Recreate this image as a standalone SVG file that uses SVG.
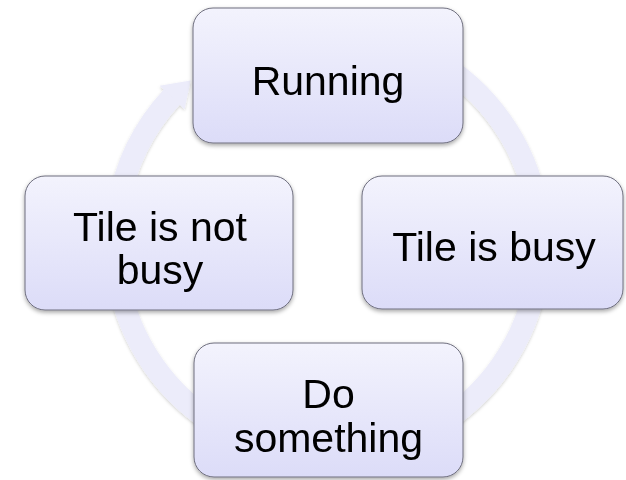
<svg xmlns="http://www.w3.org/2000/svg" width="626" height="480" viewBox="0 0 626 480">
<defs>
<style>
.ring{fill:none;stroke:#ECECFA;stroke-width:22}
.box{fill:url(#g);stroke:#6E6E7E;stroke-width:1}
.lbl{font-family:"Liberation Sans",Arial,sans-serif;font-size:41px;fill:#000;text-anchor:middle}
</style>
<linearGradient id="g" x1="0" y1="0" x2="0" y2="1">
<stop offset="0" stop-color="#F3F3FD"/>
<stop offset="1" stop-color="#DCDCF8"/>
</linearGradient>
<filter id="sh" x="-10%" y="-10%" width="120%" height="125%">
<feDropShadow dx="0" dy="2" stdDeviation="2" flood-color="#000" flood-opacity="0.35"/>
</filter>
<filter id="rs" x="-10%" y="-10%" width="120%" height="120%">
<feDropShadow dx="0" dy="1.5" stdDeviation="1.5" flood-color="#000" flood-opacity="0.18"/>
</filter>
</defs>
<rect width="626" height="480" fill="#fff"/>
<g id="connectors" filter="url(#rs)">
<path class="ring" d="M 433.7 59.6 A 212.4 212.4 0 0 1 536.7 206.6"/>
<path class="ring" d="M 536.7 280.4 A 212.4 212.4 0 0 1 433.7 427.4"/>
<path class="ring" d="M 221.3 427.4 A 212.4 212.4 0 0 1 118.3 280.4"/>
<path class="ring" d="M 118.3 206.6 A 212.4 212.4 0 0 1 172.3 96.6"/>
<polygon points="184.6,109.3 159.6,85.7 190.6,80.5" fill="#ECECFA"/>
</g>
<g id="running" filter="url(#sh)">
<rect class="box" x="193" y="8" width="270" height="135" rx="20"/>
<text class="lbl" x="328" y="95">Running</text>
</g>
<g id="tile-busy" filter="url(#sh)">
<rect class="box" x="362" y="176" width="261" height="133" rx="20"/>
<text class="lbl" x="494" y="261">Tile is busy</text>
</g>
<g id="do-something" filter="url(#sh)">
<rect class="box" x="194" y="343" width="269" height="134" rx="20"/>
<text class="lbl" x="328.5" y="408">Do</text>
<text class="lbl" x="328.5" y="452">something</text>
</g>
<g id="tile-not-busy" filter="url(#sh)">
<rect class="box" x="25" y="176" width="268" height="134" rx="20"/>
<text class="lbl" x="160" y="241">Tile is not</text>
<text class="lbl" x="160" y="284">busy</text>
</g>
</svg>
